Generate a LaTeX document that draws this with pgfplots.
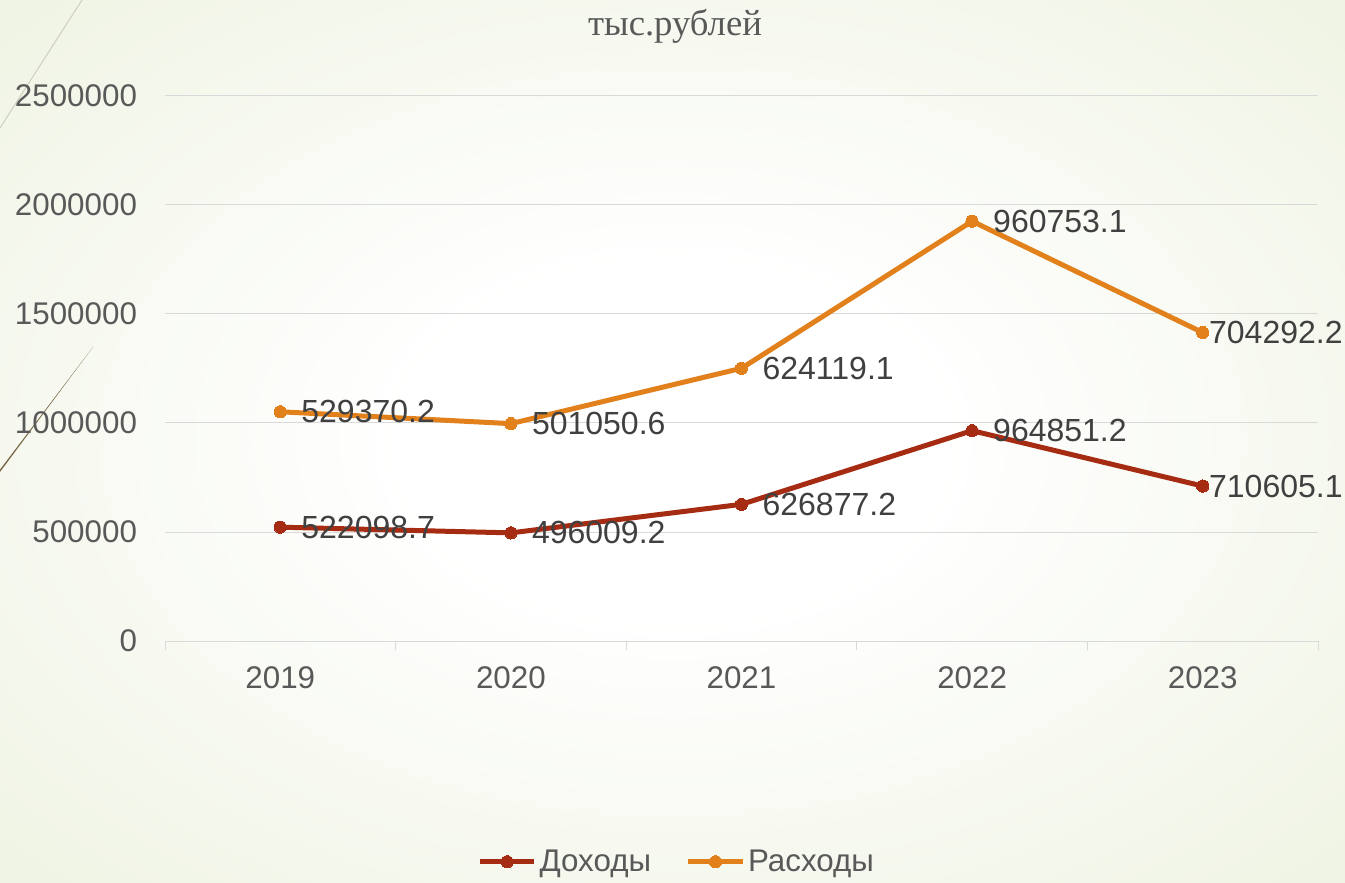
\documentclass[border=0pt]{standalone}
\usepackage{fontspec}
\setmainfont{Liberation Sans}
\newfontfamily\titlefont{Liberation Serif}
\usepackage{pgfplots}
\pgfplotsset{compat=1.18}

\definecolor{incomeRed}{RGB}{166,43,19}
\definecolor{spendOrange}{RGB}{226,128,28}
\definecolor{tickGray}{RGB}{89,89,89}
\definecolor{labelGray}{RGB}{64,64,64}
\definecolor{gridGray}{RGB}{217,217,217}
\definecolor{bgEdge}{RGB}{230,237,211}
\definecolor{decoLight}{RGB}{205,205,188}
\definecolor{decoDark}{RGB}{118,102,70}

\pgfdeclareradialshading{slidebg}{\pgfpoint{0bp}{0bp}}{%
  color(0bp)=(white); color(10bp)=(white); color(50bp)=(bgEdge); color(72bp)=(bgEdge)}

\begin{document}
\begin{tikzpicture}
% slide background, 1345x882 px at 0.75pt per px
\useasboundingbox (0,0) rectangle (1008.75pt,661.5pt);
\shade[shading=slidebg] (0,0) rectangle (1008.75pt,661.5pt);
\draw[decoLight, line width=0.7pt] (0pt,565.5pt) -- (61.5pt,661.5pt);
\fill[decoDark] (0pt,307.5pt) -- (69.75pt,401.25pt) -- (0pt,309.3pt) -- cycle;

\node[anchor=base, font=\titlefont\fontsize{27.5}{32}\selectfont, text=tickGray]
  at (506.25pt,634.5pt) {тыс.рублей};

\begin{axis}[
  at={(123.75pt,180.75pt)}, anchor=south west,
  scale only axis, width=864.75pt, height=408.75pt,
  xmin=-0.5, xmax=4.5, ymin=0, ymax=2500000,
  stack plots=y,
  axis x line*=bottom, axis y line*=left,
  x axis line style={gridGray, line width=0.75pt},
  y axis line style={draw=none},
  xtick={0,1,2,3,4}, xticklabels={2019,2020,2021,2022,2023},
  minor xtick={-0.5,0.5,1.5,2.5,3.5,4.5},
  ytick={0,500000,1000000,1500000,2000000,2500000},
  scaled y ticks=false,
  yticklabel style={/pgf/number format/fixed, /pgf/number format/1000 sep={}, xshift=-17.5pt},
  xticklabel style={yshift=-16pt},
  /pgf/number format/assume math mode=true,
  tick label style={font=\fontsize{23.5}{28}\selectfont, text=tickGray},
  major tick length=0pt, minor tick length=7pt, tick align=outside,
  minor x tick style={gridGray, line width=0.75pt},
  ymajorgrids, grid style={gridGray, line width=0.75pt},
  legend style={at={(0.444,-0.405)}, anchor=center, draw=none, fill=none,
    legend columns=-1, font=\fontsize{23.5}{28}\selectfont, text=tickGray,
    /tikz/every even column/.append style={column sep=24pt}},
  legend image code/.code={\draw[#1, mark repeat=2, mark phase=2]
    plot coordinates {(0pt,0pt) (20.5pt,0pt) (41pt,0pt)};},
  nodes near coords, point meta=explicit symbolic,
  visualization depends on={\thisrow{x} \as \xval},
  every node near coord/.append style={anchor=west,
    xshift={(12.5-11*(\xval>3.5))*1pt},
    font=\fontsize{24}{28}\selectfont, text=labelGray},
]
\addplot[incomeRed, line width=3.75pt, line join=round, mark=*,
    mark options={fill=incomeRed, draw=incomeRed, line width=0pt, mark size=4.6pt}]
  table[x=x, y=y, meta=y] {
x y
0 522098.7
1 496009.2
2 626877.2
3 964851.2
4 710605.1
};
\addlegendentry{Доходы}

\addplot[spendOrange, line width=3.75pt, line join=round, mark=*,
    mark options={fill=spendOrange, draw=spendOrange, line width=0pt, mark size=4.6pt}]
  table[x=x, y=y, meta=y] {
x y
0 529370.2
1 501050.6
2 624119.1
3 960753.1
4 704292.2
};
\addlegendentry{Расходы}
\end{axis}
\end{tikzpicture}
\end{document}
